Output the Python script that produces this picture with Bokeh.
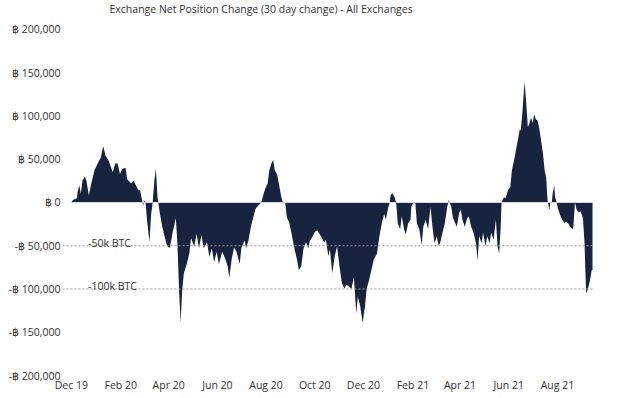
import pandas as pd
from bokeh.plotting import figure
from bokeh.models import ColumnDataSource, Range1d, FixedTicker, DatetimeTickFormatter, Label
from bokeh.embed import file_html
from bokeh.resources import INLINE

title_text = "Exchange Net Position Change (30 day change) - All Exchanges"
start_date = "2019-12-01"

day_offset = [
    0, 2, 7, 8, 10, 12, 14, 17, 19, 22, 25, 29, 33, 37, 40, 43, 47, 52, 55, 58,
    61, 64, 68, 70, 75, 78, 81, 84, 86, 88, 90, 91, 93, 95, 98, 100, 102, 104, 106, 108,
    109, 111, 114, 117, 120, 123, 125, 127, 129, 131, 133, 135, 137, 139, 141, 145, 148, 150, 154, 157,
    160, 163, 166, 170, 173, 176, 179, 182, 185, 189, 193, 196, 198, 201, 204, 207, 211, 213, 217, 219,
    222, 225, 228, 231, 235, 238, 241, 243, 246, 248, 251, 253, 255, 258, 260, 263, 265, 268, 270, 273,
    276, 279, 283, 285, 288, 291, 294, 297, 299, 302, 305, 308, 312, 317, 319, 322, 324, 327, 330, 333,
    336, 339, 342, 345, 348, 351, 354, 357, 359, 362, 365, 368, 370, 373, 376, 379, 383, 386, 389, 392,
    394, 397, 399, 400, 402, 405, 407, 409, 412, 414, 417, 419, 422, 425, 426, 429, 431, 433, 436, 439,
    441, 444, 447, 450, 452, 455, 458, 460, 462, 465, 468, 471, 473, 476, 478, 481, 483, 486, 488, 490,
    493, 496, 498, 501, 504, 507, 509, 511, 514, 516, 519, 521, 524, 526, 529, 532, 534, 536, 538, 539,
    542, 544, 547, 550, 552, 555, 557, 560, 562, 563, 565, 567, 568, 570, 572, 574, 576, 578, 580, 582,
    584, 586, 588, 591, 593, 595, 596, 597, 599, 600, 602, 603, 605, 606, 608, 610, 613, 615, 618, 620,
    623, 625, 628, 629, 631, 633, 636, 638, 641, 643, 644, 645, 647, 649, 650, 652, 653,
]

net_change_kbtc = [
    0, 3, 5, 12, 20, 10, 25, 30, 25, 8, 22, 37, 45, 52, 65, 54, 48, 35, 45, 45,
    33, 39, 40, 27, 22, 25, 20, 14, 15, 6, -4, 3, 0, -21, -46, -14, 0, 25, 39, 6,
    0, -13, -28, -40, -50, -53, -45, -34, -27, -18, -48, -101, -139, -101, -82, -70, -58, -41, -51, -36,
    -53, -38, -53, -46, -63, -53, -69, -57, -71, -57, -65, -74, -87, -65, -52, -57, -71, -53, -44, -53,
    -44, -28, -17, -7, -3, 0, 10, 16, 22, 37, 46, 49, 37, 32, 22, 7, 0, 0, -17, -23,
    -36, -51, -67, -78, -74, -53, -46, -53, -44, -40, -34, -32, -38, -46, -43, -62, -54, -82, -62, -51,
    -74, -93, -99, -95, -97, -100, -86, -128, -109, -120, -139, -120, -100, -90, -78, -66, -59, -39, -24, -13,
    -20, -6, 0, 8, 11, 6, 0, -24, -31, -16, -31, -37, -24, -20, -5, 1, 0, -24, -31, -49,
    -28, -20, -31, -5, -24, -47, -39, -49, -47, -35, -24, -5, 3, -5, -17, -24, -28, -12, -8, -20,
    -28, -18, -16, -28, -35, -47, -67, -39, -47, -35, -51, -39, -47, -35, -43, -20, -51, -59, -28, 0,
    6, 5, 14, 18, 37, 50, 60, 75, 85, 83, 102, 129, 140, 114, 87, 92, 98, 92, 102, 96,
    95, 87, 75, 56, 37, 29, 11, 0, -9, 0, 0, 10, 20, 7, 0, -8, -16, -20, -24, -22,
    -25, -28, -31, -28, 0, -8, -12, -10, -18, -47, -78, -105, -101, -93, -89, -78, -78,
]

y_tick_values = [-200000, -150000, -100000, -50000, 0, 50000, 100000, 150000, 200000]
y_tick_labels = ["-฿ 200,000", "-฿ 150,000", "-฿ 100,000", "-฿ 50,000", "฿ 0",
                 "฿ 50,000", "฿ 100,000", "฿ 150,000", "฿ 200,000"]
x_tick_labels = ["Dec 19", "Feb 20", "Apr 20", "Jun 20", "Aug 20", "Oct 20",
                 "Dec 20", "Feb 21", "Apr 21", "Jun 21", "Aug 21"]
ref_levels = [-50000, -100000]
ref_labels = ["-50k BTC", "-100k BTC"]

FONT = "Open Sans"
TEXT_COLOR = "#333333"
FILL = "#17233f"

t0 = pd.Timestamp(start_date)
dates = [t0 + pd.Timedelta(days=d) for d in day_offset]
vals = [v * 1000 for v in net_change_kbtc]
src = ColumnDataSource(dict(x=dates, y=vals))

x_start = t0 - pd.Timedelta(days=11)
x_end = t0 + pd.Timedelta(days=663)

# the frame extends above the top tick to host the title (frame is invisible)
Y_MIN, Y_TOP = -200000, 231200

p = figure(width=612, height=395, output_backend="svg", toolbar_location=None,
           x_axis_type="datetime",
           x_range=Range1d(x_start, x_end), y_range=Range1d(Y_MIN, Y_TOP),
           min_border_left=62, min_border_right=12, min_border_top=2,
           min_border_bottom=20)

p.outline_line_color = None
p.xgrid.visible = False
p.ygrid.visible = False
p.background_fill_color = "white"
p.border_fill_color = "white"

p.varea(x="x", y1=0, y2="y", source=src, fill_color=FILL)

# zero line over the area
p.line(x=[dates[0], dates[-1]], y=[0, 0], line_color="#d9d9d9", line_width=1)

for lvl, lab in zip(ref_levels, ref_labels):
    p.line(x=[x_start, dates[-1]], y=[lvl, lvl], line_color="#9a9a9a",
           line_width=1, line_dash="2 2")
    p.add_layout(Label(x=t0 + pd.Timedelta(days=21), y=lvl, text=lab, y_offset=3,
                       text_baseline="alphabetic", text_align="left",
                       text_font=FONT, text_font_size="10.5px", text_color=TEXT_COLOR))

# chart title
p.add_layout(Label(x=47, y=Y_TOP, x_units="screen", y_units="data", y_offset=-6,
                   text=title_text, text_baseline="alphabetic", text_align="left",
                   text_font=FONT, text_font_size="10.5px", text_color=TEXT_COLOR))

x_ticks = [pd.to_datetime(s, format="%b %y") for s in x_tick_labels]
p.xaxis.ticker = FixedTicker(ticks=[t.value / 1e6 for t in x_ticks])
p.xaxis.formatter = DatetimeTickFormatter(months="%b %y", days="%b %y", years="%b %y")
p.yaxis.ticker = FixedTicker(ticks=y_tick_values)
p.yaxis.major_label_overrides = {v: l for v, l in zip(y_tick_values, y_tick_labels)}

for ax in (p.xaxis, p.yaxis):
    ax.axis_line_color = None
    ax.major_tick_line_color = None
    ax.minor_tick_line_color = None
    ax.major_tick_out = 0
    ax.major_tick_in = 0
    ax.minor_tick_out = 0
    ax.minor_tick_in = 0
    ax.major_label_text_font = FONT
    ax.major_label_text_font_size = "10.5px"
    ax.major_label_text_color = TEXT_COLOR
p.xaxis.major_label_standoff = 2
p.yaxis.major_label_standoff = 2

open("out.html", "w").write(file_html(p, INLINE))
